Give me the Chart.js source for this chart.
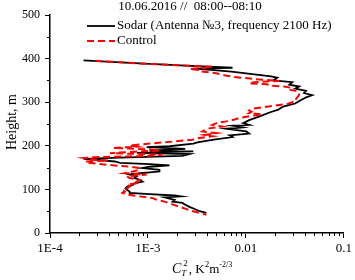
<!DOCTYPE html>
<html>
<head>
<meta charset="utf-8">
<script src="https://cdn.jsdelivr.net/npm/chart.js@4"></script>
<style>
  html, body { margin: 0; padding: 0; background: #fff; }
  canvas { display: block; }
</style>
</head>
<body>
<canvas id="profileChart" width="355" height="280"></canvas>
<script>
"use strict";

// Дані профілю (висота, м — C_T^2, K^2 m^-2/3)
const sodarHeight = [396, 390, 384, 379, 377, 374, 370, 364, 359, 356, 350, 346, 340, 336, 331, 326, 321, 316, 311, 304,
    297, 290, 283, 277, 268, 259, 252, 248, 246, 242, 239, 233, 228, 224, 220, 214, 208, 205, 199, 197,
    193, 189, 187, 184, 181, 177, 173, 170, 167, 164, 161, 158, 155, 152, 149, 145, 141, 137, 134, 130,
    126, 122, 118, 114, 110, 106, 102, 99, 95, 92, 89, 86, 84, 82, 79, 76, 72, 69, 65, 60, 55, 50, 46];
const sodarCt2 = [0.00022, 0.00065, 0.0024, 0.0073, 0.0029, 0.0044, 0.0071, 0.0122, 0.0181, 0.0209, 0.019, 0.0297, 0.0277, 0.0349, 0.0318, 0.0411, 0.0393, 0.0474, 0.0411, 0.0358,
    0.0318, 0.024, 0.0214, 0.0177, 0.014, 0.0108, 0.0094, 0.0108, 0.0073, 0.0092, 0.0063, 0.0101, 0.0108, 0.0068, 0.0073, 0.0047, 0.0032, 0.0029, 0.00166, 0.00097,
    0.0024, 0.00104, 0.0029, 0.00077, 0.00265, 0.00225, 0.00052, 0.00022, 0.00032, 0.00046, 0.00052, 0.00104, 0.00166, 0.00104, 0.00088, 0.00131, 0.00131, 0.00082, 0.00065, 0.00077,
    0.00073, 0.00082, 0.00088, 0.00073, 0.0007, 0.00061, 0.00059, 0.00061, 0.00065, 0.00065, 0.00104, 0.00187, 0.00215, 0.00148, 0.00166, 0.00187, 0.00178, 0.00225, 0.0024, 0.00265, 0.003, 0.00336, 0.00395];

const controlHeight = [395, 389, 383, 381, 378, 376, 374, 371, 367, 362, 358, 353, 349, 346, 343, 341, 338, 336, 333, 329,
    325, 321, 317, 313, 308, 304, 300, 296, 292, 288, 285, 281, 278, 275, 272, 268, 264, 260, 256, 252,
    248, 244, 240, 236, 233, 229, 225, 222, 218, 214, 209, 205, 201, 198, 195, 192, 189, 186, 183, 180,
    177, 174, 172, 169, 166, 164, 161, 158, 155, 152, 149, 145, 141, 137, 134, 130, 126, 122, 118, 115,
    111, 107, 103, 99, 95, 92, 88, 84, 80, 76, 72, 68, 64, 60, 56, 52, 48, 44, 42];
const controlCt2 = [0.00029, 0.00082, 0.003, 0.00455, 0.0036, 0.00265, 0.00336, 0.00336, 0.0048, 0.006, 0.0076, 0.0122, 0.0219, 0.0122, 0.0108, 0.0165, 0.0173, 0.0246, 0.029, 0.0277,
    0.0334, 0.0349, 0.0349, 0.0341, 0.0326, 0.0326, 0.0297, 0.0264, 0.0194, 0.0144, 0.0116, 0.0108, 0.0114, 0.0108, 0.0147, 0.0108, 0.0086, 0.0076, 0.0063, 0.005,
    0.00455, 0.00575, 0.00424, 0.0038, 0.0036, 0.005, 0.0038, 0.00455, 0.00336, 0.00285, 0.00166, 0.00104, 0.00065, 0.00077, 0.00044, 0.00104, 0.00131, 0.00065, 0.00041, 0.00141,
    0.00104, 0.00029, 0.00022, 0.000255, 0.00039, 0.00023, 0.00025, 0.00032, 0.00046, 0.00065, 0.00082, 0.00082, 0.0007, 0.00058, 0.00097, 0.00061, 0.00065, 0.00082, 0.00077, 0.00082,
    0.00061, 0.00065, 0.00062, 0.00055, 0.00058, 0.00055, 0.00061, 0.00082, 0.00112, 0.00123, 0.00148, 0.00166, 0.00187, 0.0021, 0.0024, 0.00265, 0.0031, 0.0036, 0.00395];

const seriesLabels = ['Sodar (Antenna \u21163, frequency 2100 Hz)', 'Control'];
const xTickValues = [1e-4, 1e-3, 1e-2, 1e-1];
const xTickLabels = ['1E-4', '1E-3', '0.01', '0.1'];
const yTickValues = [0, 100, 200, 300, 400, 500];
const chartTitle = '10.06.2016 //  08:00--08:10';

const SERIF = '"Liberation Serif", "DejaVu Serif", serif';

function toPoints(xs, ys) {
    return xs.map((v, i) => ({ x: v, y: ys[i] }));
}

// Малі риски осей, заголовки та легенда
const decorPlugin = {
    id: 'decor',
    afterDraw(chart) {
        const ctx = chart.ctx;
        const xs = chart.scales.x;
        const ys = chart.scales.y;
        const area = chart.chartArea;

        ctx.save();
        ctx.strokeStyle = '#000';
        ctx.lineWidth = 1;
        // minor ticks x
        for (let d = -4; d < -1; d++) {
            for (let k = 2; k <= 9; k++) {
                const px = Math.round(xs.getPixelForValue(k * Math.pow(10, d))) + 0.5;
                ctx.beginPath();
                ctx.moveTo(px, area.bottom);
                ctx.lineTo(px, area.bottom + 3);
                ctx.stroke();
            }
        }
        // minor ticks y
        for (let v = 50; v < 500; v += 100) {
            const py = Math.round(ys.getPixelForValue(v)) + 0.5;
            ctx.beginPath();
            ctx.moveTo(area.left, py);
            ctx.lineTo(area.left - 3, py);
            ctx.stroke();
        }

        // title
        ctx.fillStyle = '#000';
        ctx.font = '13px ' + SERIF;
        ctx.textAlign = 'center';
        ctx.textBaseline = 'middle';
        ctx.fillText(chartTitle, 190, 7);

        // legend
        ctx.textAlign = 'left';
        chart.data.datasets.forEach((ds, i) => {
            const y = 26 + i * 15;
            ctx.save();
            ctx.strokeStyle = ds.borderColor;
            ctx.lineWidth = ds.borderWidth;
            ctx.setLineDash(ds.borderDash || []);
            ctx.beginPath();
            ctx.moveTo(87, y);
            ctx.lineTo(115, y);
            ctx.stroke();
            ctx.restore();
            ctx.fillText(ds.label, 117, y);
        });

        // y title
        ctx.save();
        ctx.translate(12, 122);
        ctx.rotate(-Math.PI / 2);
        ctx.font = '14px ' + SERIF;
        ctx.textAlign = 'center';
        ctx.fillText('Height, m', 0, 0);
        ctx.restore();

        // x title: C_T^2, K^2m^-2/3
        ctx.textBaseline = 'alphabetic';
        let x = 172;
        const base = 273;
        ctx.font = 'italic 14px ' + SERIF;
        ctx.fillText('C', x, base);
        x += ctx.measureText('C').width;
        ctx.font = 'italic 9px ' + SERIF;
        ctx.fillText('T', x, base + 3);
        ctx.font = '9px ' + SERIF;
        ctx.fillText('2', x + 2, base - 7);
        x += ctx.measureText('T').width + 2;
        ctx.font = '13px ' + SERIF;
        ctx.fillText(', K', x, base);
        x += ctx.measureText(', K').width;
        ctx.font = '9px ' + SERIF;
        ctx.fillText('2', x, base - 6);
        x += ctx.measureText('2').width;
        ctx.font = '13px ' + SERIF;
        ctx.fillText('m', x, base);
        x += ctx.measureText('m').width;
        ctx.font = '8px ' + SERIF;
        ctx.fillText('-2/3', x, base - 6);
        ctx.restore();
    }
};

new Chart(document.getElementById('profileChart'), {
    type: 'line',
    data: {
        datasets: [
            {
                label: seriesLabels[0],
                data: toPoints(sodarCt2, sodarHeight),
                borderColor: '#000000',
                borderWidth: 1.8,
                pointRadius: 0,
                tension: 0,
                order: 2
            },
            {
                label: seriesLabels[1],
                data: toPoints(controlCt2, controlHeight),
                borderColor: '#ff0000',
                borderWidth: 2,
                borderDash: [7, 4],
                pointRadius: 0,
                tension: 0,
                order: 1
            }
        ]
    },
    options: {
        responsive: false,
        animation: false,
        layout: { padding: { top: 15, right: 10, left: 0, bottom: 0 } },
        plugins: {
            legend: { display: false },
            tooltip: { enabled: false }
        },
        scales: {
            x: {
                type: 'logarithmic',
                min: 1e-4,
                max: 0.1,
                afterBuildTicks: (scale) => {
                    scale.ticks = xTickValues.map(v => ({ value: v }));
                },
                afterFit: (scale) => { scale.height = 47; },
                border: { display: true, color: '#000', width: 1.5 },
                grid: { drawOnChartArea: false, tickLength: 5, color: '#000', tickWidth: 1 },
                ticks: {
                    color: '#000',
                    font: { family: SERIF, size: 13 },
                    padding: 3,
                    maxRotation: 0,
                    callback: (v) => {
                        const i = xTickValues.findIndex(t => Math.abs(Math.log10(t) - Math.log10(v)) < 1e-6);
                        return i >= 0 ? xTickLabels[i] : '';
                    }
                }
            },
            y: {
                type: 'linear',
                min: 0,
                max: 500,
                afterBuildTicks: (scale) => {
                    scale.ticks = yTickValues.map(v => ({ value: v }));
                },
                afterFit: (scale) => { scale.width = 50; },
                border: { display: true, color: '#000', width: 1.5 },
                grid: { drawOnChartArea: false, tickLength: 5, color: '#000', tickWidth: 1 },
                ticks: {
                    color: '#000',
                    font: { family: SERIF, size: 12 },
                    padding: 5
                }
            }
        }
    },
    plugins: [decorPlugin]
});
</script>
</body>
</html>
